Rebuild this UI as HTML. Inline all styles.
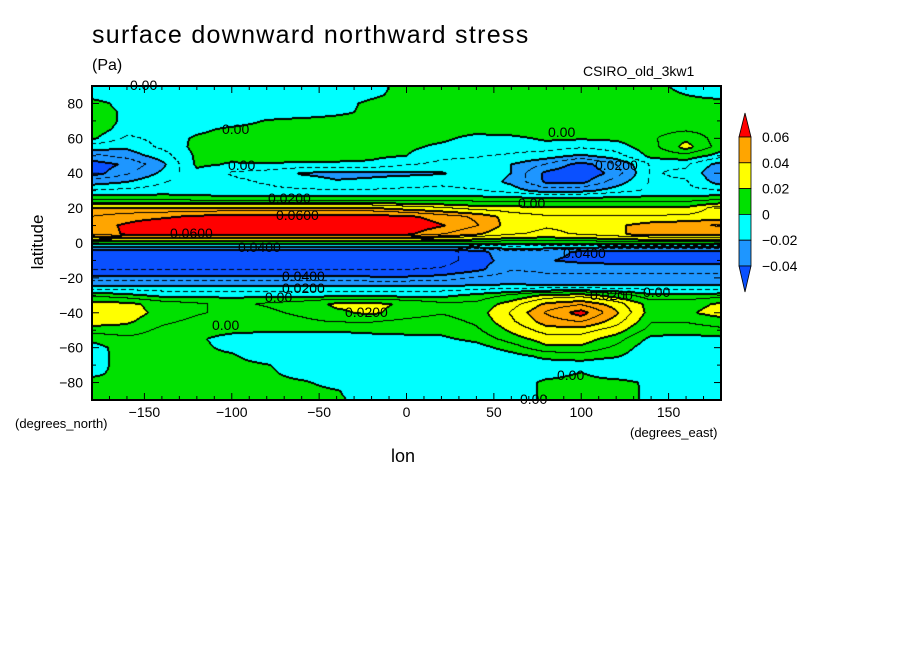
<!DOCTYPE html>
<html><head><meta charset="utf-8">
<style>
body{margin:0;background:#fff;}
#wrap{position:relative;width:904px;height:654px;overflow:hidden;background:#fff;font-family:"Liberation Sans",sans-serif;}
.t{position:absolute;white-space:nowrap;color:#000;}
</style></head>
<body>
<div id="wrap">
<div class="t" style="left:92px;top:21px;font-size:25px;letter-spacing:1.3px;">surface downward northward stress</div>
<div class="t" style="left:92px;top:57px;font-size:16px;">(Pa)</div>
<div class="t" style="left:583px;top:63px;font-size:14px;">CSIRO_old_3kw1</div>
<div class="t" style="left:-2px;top:232px;font-size:17px;transform:rotate(-90deg);width:80px;text-align:center;">latitude</div>
<div class="t" style="left:391px;top:446px;font-size:18px;">lon</div>
<div class="t" style="left:15px;top:416px;font-size:13px;">(degrees_north)</div>
<div class="t" style="left:630px;top:425px;font-size:13px;">(degrees_east)</div>
<canvas id="cv" width="629" height="314" style="position:absolute;left:92px;top:86px;"></canvas>
<svg id="ov" width="904" height="654" style="position:absolute;left:0;top:0;"></svg>
</div>
<script>
const lons=[-180,-160,-140,-120,-100,-80,-60,-40,-20,0,20,40,60,80,100,120,140,160,180];
const lats=[90,85,80,75,70,65,60,55,50,45,40,35,30,25,20,15,10,5,0,-5,-10,-15,-20,-25,-30,-35,-40,-45,-50,-55,-60,-65,-70,-75,-80,-85,-90];
// values in 0.01 Pa, one row per latitude
const field=[
[-0.9,-0.9,-0.9,-0.9,-0.9,-0.9,-0.9,-0.9,-0.5,0.5,0.9,0.9,0.9,0.9,0.9,0.9,0.5,-0.5,-0.9],
[-0.5,-0.9,-0.9,-0.9,-0.9,-0.9,-0.9,-0.9,-0.3,0.5,0.9,0.9,0.9,0.9,0.9,0.9,0.5,0,-0.5],
[0.5,-0.5,-0.9,-0.9,-0.9,-0.9,-0.9,-0.5,0.3,0.8,0.9,0.9,0.9,0.9,0.9,0.9,0.8,0.5,0.5],
[0.8,-0.3,-0.9,-0.9,-0.9,-0.9,-0.8,-0.3,0.3,0.8,0.9,0.9,0.9,0.9,0.9,0.9,0.8,0.5,0.5],
[0.8,-0.3,-0.9,-0.9,-0.6,0.1,0.4,0.5,0.5,0.8,0.9,0.9,0.9,0.9,0.9,0.8,0.5,0.5,0.5],
[0.6,-0.5,-0.8,-0.3,0.3,0.5,0.5,0.5,0.6,0.8,0.5,0.3,0.6,0.8,0.5,0.5,0.6,0.8,0.5],
[0.2,-1.2,-0.7,0.2,0.6,0.6,0.7,0.7,0.5,0.3,0.2,-0.3,-0.3,0.2,0.1,0.2,0.8,1.8,0.5],
[-1.5,-1.8,-0.8,0.3,0.5,0.6,0.6,0.6,0.3,0.2,-0.2,-0.6,-0.6,-0.5,-0.8,-0.5,0.6,2.4,0.5],
[-3.2,-2.6,-1.5,0.2,0.3,0.5,0.5,0.4,0.2,0,-0.8,-0.9,-1.1,-1.5,-2.2,-1.4,0.3,0.7,-0.5],
[-4.6,-3.8,-2.3,0.2,-0.1,-0.1,-0.2,-0.2,-0.2,-0.9,-1.2,-1.3,-2,-3,-4.5,-3,-0.9,-0.8,-2.5],
[-4.5,-3.2,-1.8,-0.3,-1.1,-1.4,-2.1,-2.3,-2.2,-2.2,-2.1,-1.5,-2,-4.3,-5,-3.5,-0.9,-1.2,-3],
[-2.5,-2,-1.1,-0.5,-0.8,-1.1,-1.5,-1.9,-1.8,-1.5,-1.2,-1.5,-2.2,-4.2,-4.3,-2.5,-0.9,-0.9,-2.5],
[-0.9,-0.8,-0.6,-0.5,-0.8,-0.8,-0.9,-0.9,-0.9,-0.8,-0.8,-0.9,-1.5,-2.5,-2.3,-1.5,-0.8,-0.8,-0.9],
[0.8,0.8,0.8,0.5,0.5,0.5,0.5,0.5,0.5,0.5,0.5,0.5,0.5,0.5,0.5,0.5,0.5,0.5,0.8],
[4.1,4.1,4.1,4.1,4.1,4.1,4.1,4.1,4.1,3.5,3.1,2.5,2.4,2.2,2.2,2.2,2.2,2.2,3.5],
[5,5.5,5.8,6.3,6.5,6.5,6.5,6.5,6.5,6.3,5.5,4.8,3.5,3.1,3.1,3.1,3.1,3.2,3.5],
[5.5,6.2,6.9,6.9,6.9,6.9,6.9,6.9,6.9,6.8,6.1,5.1,3.5,3.1,3.2,3.8,4.5,4.8,5.1],
[5.1,6.2,6.5,6.5,6.5,6.5,6.5,6.5,6.5,6.2,5.1,4.1,3.1,2.8,3.1,3.8,4.5,4.5,4.5],
[0.5,0.5,0.5,0.5,0.5,0.5,0.5,0.5,0.5,0.5,0.5,0.5,0.5,0.5,0.5,0.5,0.5,0.5,0.5],
[-5.5,-5.5,-5.5,-5.5,-5.5,-5.5,-5.5,-5.5,-5.5,-5.5,-5.5,-4.5,-3.1,-3.5,-4.2,-4.5,-4.5,-4.5,-4.5],
[-5.9,-5.9,-5.9,-5.9,-5.9,-5.9,-5.9,-5.9,-5.9,-5.9,-5.5,-4.5,-3.5,-3.9,-4.3,-4.5,-4.5,-4.5,-4.5],
[-5.1,-5.1,-5.1,-5.1,-5.1,-5.1,-5.1,-5.1,-5.1,-5.1,-4.9,-4.3,-3.1,-3.2,-3.2,-3.2,-3.2,-3.2,-3.2],
[-3.6,-3.6,-3.6,-3.6,-3.6,-3.6,-3.6,-3.6,-3.8,-3.8,-3.6,-2.9,-2.5,-2.8,-2.8,-2.8,-2.8,-2.8,-2.8],
[-1.9,-1.9,-1.9,-1.9,-1.9,-1.9,-1.9,-1.9,-1.9,-1.9,-1.9,-1.8,-1.8,-1.8,-1.8,-1.8,-1.8,-1.8,-1.8],
[0.8,0.3,-0.3,-0.3,-0.3,-0.3,-0.3,-0.3,-0.3,-0.3,-0.3,0.3,1.1,2.2,2.5,1.5,0.3,0.3,0.5],
[2.5,2.3,1.5,1.1,0.8,1.1,1.5,2.2,2.3,1.8,1.2,1.2,2.5,4.2,4.8,3.5,1.5,1.5,2.2],
[2.8,2.6,1.6,1.1,0.8,0.8,1.2,1.8,2.2,1.5,1.1,1.5,3.1,5.1,6.5,4.2,1.5,1.8,2.5],
[2.5,2.2,1.2,0.8,0.6,0.6,0.8,1.1,1.1,0.8,0.6,1.2,2.8,4.5,5.1,3.5,1.1,1.1,1.5],
[1.5,1.5,0.8,0.5,0.3,0.2,0.2,0.2,0.3,0.3,0.3,0.8,2.2,3.5,3.5,2.5,0.6,0.5,0.8],
[0.3,0.8,0.6,0.2,-0.5,-0.8,-0.8,-0.8,-0.5,-0.3,-0.2,0.3,1.5,2.5,2.5,1.5,-0.3,-0.5,-0.3],
[-0.5,0.6,0.6,0.3,-0.3,-0.9,-0.9,-0.9,-0.9,-0.8,-0.8,-0.5,0.5,1.8,1.8,0.8,-0.8,-0.9,-0.5],
[-0.5,0.5,0.6,0.3,0.2,-0.8,-0.9,-0.9,-0.9,-0.9,-0.9,-0.9,-0.5,0.3,0.5,0.1,-0.9,-0.9,-0.5],
[-0.5,0.5,0.6,0.4,0.5,0.1,-0.8,-0.9,-0.9,-0.9,-0.9,-0.9,-0.9,-0.6,-0.5,-0.9,-0.9,-0.9,-0.3],
[-0.3,0.5,0.6,0.5,0.6,0.3,-0.5,-0.9,-0.9,-0.9,-0.9,-0.9,-0.9,-0.5,0.1,-0.8,-0.9,-0.9,-0.3],
[0.5,0.6,0.6,0.5,0.6,0.5,0.2,-0.5,-0.9,-0.9,-0.9,-0.9,-0.8,0.3,0.5,0.5,-0.3,-0.9,-0.5],
[0.6,0.6,0.6,0.6,0.6,0.6,0.5,0.1,-0.8,-0.9,-0.9,-0.9,-0.8,0.3,0.6,0.6,-0.3,-0.9,-0.5],
[0.6,0.6,0.6,0.6,0.6,0.6,0.6,0.2,-0.5,-0.9,-0.9,-0.9,-0.8,0.3,0.6,0.6,-0.3,-0.9,-0.5]
];
const levelColors=["#0a50ff","#1e96ff","#00ffff","#00e100","#ffff00","#ffa500","#ff0000"];
const levelBounds=[-4,-2,0,2,4,6];
const cbLabels=["0.06","0.04","0.02","0","-0.02","-0.04"];
const xTicks=[-150,-100,-50,0,50,100,150];
const yTicks=[80,60,40,20,0,-20,-40,-60,-80];

const PX=92,PY=86,PW=629,PH=314;
function xOf(lon){return PX+(lon+180)/360*PW;}
function yOf(lat){return PY+(90-lat)/180*PH;}
function val(lon,lat){
  let fi=(lon-lons[0])/(lons[1]-lons[0]);
  let fj=(lats[0]-lat)/(lats[0]-lats[1]);
  fi=Math.max(0,Math.min(lons.length-1.0001,fi));
  fj=Math.max(0,Math.min(lats.length-1.0001,fj));
  const i=Math.floor(fi),j=Math.floor(fj),a=fi-i,b=fj-j;
  const v00=field[j][i],v10=field[j][i+1],v01=field[j+1][i],v11=field[j+1][i+1];
  return (v00*(1-a)+v10*a)*(1-b)+(v01*(1-a)+v11*a)*b;
}
function cls(v){let k=0;while(k<levelBounds.length&&v>=levelBounds[k])k++;return k;}
const cv=document.getElementById('cv');const ctx=cv.getContext('2d');
const img=ctx.createImageData(PW,PH);
const V=new Float32Array(PW*PH);
for(let y=0;y<PH;y++)for(let x=0;x<PW;x++){
  const lon=-180+(x+0.5)/PW*360,lat=90-(y+0.5)/PH*180;
  V[y*PW+x]=val(lon,lat);
}
function hex(c){return [parseInt(c.substr(1,2),16),parseInt(c.substr(3,2),16),parseInt(c.substr(5,2),16)];}
const rgbs=levelColors.map(hex);
for(let y=0;y<PH;y++)for(let x=0;x<PW;x++){
  const v=V[y*PW+x];let c=rgbs[cls(v)];
  const L=Math.floor(v);
  let line=false,bold=false;
  const nb=[[1,0],[0,1],[-1,0],[0,-1]];
  for(const [dx,dy] of nb){const xx=x+dx,yy=y+dy;if(xx<0||yy<0||xx>=PW||yy>=PH)continue;
    const w=V[yy*PW+xx];const L2=Math.floor(w);
    if(L2!==L){ if((dx>0||dy>0)) line=true; const lv=Math.max(L,L2); if(lv%2===0){bold=true;} }
  }
  if(line||bold){
    const neg=(v<0);
    if(bold || !neg || ((x+y)%8<5)) c=[0,0,0];
  }
  const p=(y*PW+x)*4;img.data[p]=c[0];img.data[p+1]=c[1];img.data[p+2]=c[2];img.data[p+3]=255;
}
ctx.putImageData(img,0,0);

const NS="http://www.w3.org/2000/svg";const ov=document.getElementById('ov');
function mk(tag,attrs){const e=document.createElementNS(NS,tag);for(const k in attrs)e.setAttribute(k,attrs[k]);ov.appendChild(e);return e;}
let fr=mk('rect',{x:PX,y:PY,width:PW,height:PH,fill:'none',stroke:'#000','stroke-width':2});


for(let lon=-180;lon<=180;lon+=10){const x=xOf(lon);const len=(lon%50===0)?7:4;
  mk('line',{x1:x,y1:PY,x2:x,y2:PY+len,stroke:'#000','stroke-width':1});
  mk('line',{x1:x,y1:PY+PH,x2:x,y2:PY+PH-len,stroke:'#000','stroke-width':1});}
for(let lat=-90;lat<=90;lat+=10){const y=yOf(lat);const len=(lat%20===0)?7:4;
  mk('line',{x1:PX,y1:y,x2:PX+len,y2:y,stroke:'#000','stroke-width':1});
  mk('line',{x1:PX+PW,y1:y,x2:PX+PW-len,y2:y,stroke:'#000','stroke-width':1});}
xTicks.forEach(v=>{const t=mk('text',{x:xOf(v),y:417,'text-anchor':'middle','font-size':14,'font-family':'Liberation Sans, sans-serif'});t.textContent=String(v).replace('-','\u2212');
  
  });
yTicks.forEach(v=>{const t=mk('text',{x:83,y:yOf(v)+5,'text-anchor':'end','font-size':14,'font-family':'Liberation Sans, sans-serif'});t.textContent=String(v).replace('-','\u2212');
  
  });
const cl=[["0.00",130,90],["0.00",222,134],["0.00",228,170],["0.0200",268,203],["0.0600",276,220],["0.0600",170,238],["0.0400",238,252],["0.0400",282,281],["0.0200",282,293],["0.00",265,302],["0.0200",345,317],["0.00",212,330],["0.00",548,137],["0.0200",595,170],["0.00",518,208],["0.0400",563,258],["0.0200",590,300],["0.00",643,297],["0.00",557,380],["0.00",520,404]];
cl.forEach(c=>{const t=mk('text',{x:c[1],y:c[2],'font-size':14,'font-family':'Liberation Sans, sans-serif'});t.textContent=c[0];
  
  });
const cbX=739,cbW=12,segH=25.8,cbTop=137;
mk('polygon',{points:`${cbX},${cbTop} ${cbX+cbW},${cbTop} ${cbX+cbW/2},${cbTop-24}`,fill:levelColors[6],stroke:'#000','stroke-width':0.8});
for(let k=5;k>=1;k--){const y=cbTop+(5-k)*segH;
  const r=mk('rect',{x:cbX,y:y,width:cbW,height:segH,fill:levelColors[k],stroke:'#000','stroke-width':0.8});
  
  }
const botY=cbTop+5*segH;
mk('polygon',{points:`${cbX},${botY} ${cbX+cbW},${botY} ${cbX+cbW/2},${botY+26}`,fill:levelColors[0],stroke:'#000','stroke-width':0.8});
cbLabels.forEach((s,i)=>{const t=mk('text',{x:762,y:cbTop+i*segH+5,'font-size':14,'font-family':'Liberation Sans, sans-serif'});t.textContent=s.replace('-','\u2212');
  
  });
</script>
</body></html>
